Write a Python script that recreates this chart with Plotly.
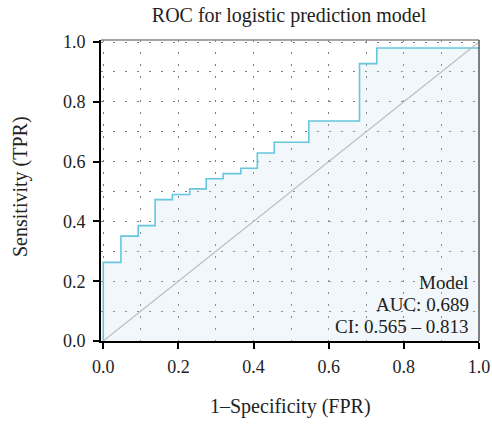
import plotly.graph_objects as go

# ROC curve points (FPR, TPR)
fpr = [0.0, 0.0, 0.047, 0.047, 0.093, 0.093, 0.138, 0.138, 0.184, 0.184, 0.23, 0.23,
       0.274, 0.274, 0.319, 0.319, 0.366, 0.366, 0.41, 0.41, 0.455, 0.455, 0.547, 0.547,
       0.682, 0.682, 0.728, 0.728, 1.0]
tpr = [0.0, 0.263, 0.263, 0.351, 0.351, 0.386, 0.386, 0.473, 0.473, 0.49, 0.49, 0.509,
       0.509, 0.543, 0.543, 0.56, 0.56, 0.578, 0.578, 0.629, 0.629, 0.665, 0.665, 0.736,
       0.736, 0.928, 0.928, 0.98, 0.98]
diag_x = [0, 1]
diag_y = [0, 1]
tick_vals = [0.0, 0.2, 0.4, 0.6, 0.8, 1.0]
tick_text = ["0.0", "0.2", "0.4", "0.6", "0.8", "1.0"]
title_text = "ROC for logistic prediction model"
x_title = "1\u2013Specificity (FPR)"
y_title = "Sensitivity (TPR)"
note_lines = ["Model", "AUC: 0.689", "CI: 0.565 \u2013 0.813"]

FONT = "Liberation Serif, Times New Roman, serif"
TXT = "#222"

L, R, T, B = 101, 13, 40, 86
W, H = 492, 427
PW, PH = W - L - R, H - T - B

fig = go.Figure()
fig.add_trace(go.Scatter(x=fpr, y=tpr, mode="lines", line=dict(color="#66c6de", width=1.6),
                         fill="tozeroy", fillcolor="rgba(195,222,240,0.24)", hoverinfo="skip"))
fig.add_trace(go.Scatter(x=diag_x, y=diag_y, mode="lines", line=dict(color="#bdbdbd", width=1.2),
                         hoverinfo="skip"))

axis_common = dict(
    showline=True, linecolor="black", linewidth=2,
    ticks="outside", ticklen=6, tickwidth=2, tickcolor="black",
    tickvals=tick_vals, ticktext=tick_text,
    showgrid=True, gridcolor="#7a7a7a", gridwidth=1, griddash="2px,10px",
    minor=dict(dtick=0.1, tick0=0, showgrid=True, gridcolor="#7a7a7a", gridwidth=1,
               griddash="2px,10px", ticks=""),
    zeroline=False, automargin=False,
    tickfont=dict(family=FONT, size=18, color=TXT),
)

fig.update_layout(
    width=W, height=H,
    margin=dict(l=L, r=R, t=T, b=B),
    paper_bgcolor="white", plot_bgcolor="white",
    showlegend=False,
    font=dict(family=FONT, color=TXT),
    title=dict(text=title_text, x=289 / W, xanchor="center", y=1 - 15 / H, yanchor="middle",
               font=dict(family=FONT, size=20, color=TXT)),
    xaxis=dict(range=[-0.006, 1.0], ticklabelstandoff=2, **axis_common),
    yaxis=dict(range=[0, 1.007], ticklabelstandoff=4, **axis_common),
)

# top and right frame lines
fig.add_shape(type="line", xref="paper", yref="paper", x0=0, x1=1, y0=1, y1=1,
              line=dict(color="#888", width=1.5))
fig.add_shape(type="line", xref="paper", yref="paper", x0=1, x1=1, y0=0, y1=1,
              line=dict(color="#555", width=1.5))

# axis titles
fig.add_annotation(text=x_title, xref="paper", yref="paper", x=(290 - L) / PW, y=-(407 - (T + PH)) / PH,
                   xanchor="center", yanchor="middle", showarrow=False,
                   font=dict(family=FONT, size=20, color=TXT))
fig.add_annotation(text=y_title, xref="paper", yref="paper", x=-(L - 20) / PW, y=((T + PH) - 187) / PH,
                   xanchor="center", yanchor="middle", showarrow=False, textangle=-90,
                   font=dict(family=FONT, size=20, color=TXT))

# legend-like note, one line per annotation
for line_text, py in zip(note_lines, [282, 304, 326]):
    fig.add_annotation(text=line_text, xref="paper", yref="paper", x=(471 - L) / PW,
                       y=((T + PH) - py) / PH, xanchor="right", yanchor="middle",
                       showarrow=False, font=dict(family=FONT, size=19, color=TXT))

fig.write_html("out.html")
